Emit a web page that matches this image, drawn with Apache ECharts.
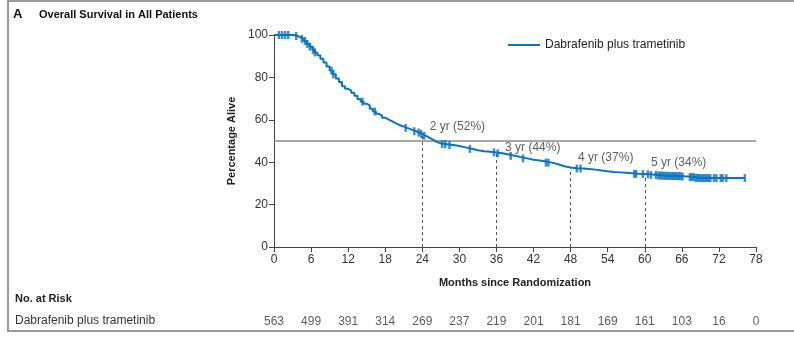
<!DOCTYPE html>
<html><head><meta charset="utf-8">
<script src="https://cdn.jsdelivr.net/npm/echarts@6/dist/echarts.min.js"></script>
<style>html,body{margin:0;padding:0;background:#fff}#c{width:794px;height:340px}</style>
</head><body><div id="c"></div>
<script>
// ---- data ----
const seriesName = 'Dabrafenib plus trametinib';
const kmMonths = [0,2.5,3.2,3.8,4.3,4.8,5.3,5.8,6.2,6.6,7.0,7.5,8.0,8.5,9.0,9.5,10.0,10.5,11.0,11.5,12.0,12.5,13.0,13.5,14.0,14.5,15.0,15.5,16.0,16.5,17.0,17.5,18.0,18.5,19.0,19.5,20.0,20.5,21.0,21.5,22.0,22.5,23.0,23.5,24.0,24.5,25.0,25.5,26.0,26.5,27.0,28.0,29.0,30.0,31.0,32.0,33.0,34.0,35.0,36.0,37.0,38.0,39.0,40.0,41.0,42.0,43.0,44.0,45.0,46.0,47.0,48.0,49.0,50.0,51.0,52.0,53.0,54.0,55.0,56.0,57.0,58.0,59.0,60.0,61.0,62.0,63.0,64.0,65.0,66.0,67.0,68.0,69.0,76.2];
const kmSurvival = [100,100,99.5,99,98.2,97.2,95.8,94.5,93,91.8,90.5,88.8,87,85.2,83.2,81.5,79.5,77.8,75.8,74.6,73.8,72.8,71.3,69.8,68.6,67.6,66.8,65.2,63.9,62.8,62.0,61.0,60.2,59.5,58.7,58.0,57.3,56.8,56.2,55.7,55.1,54.6,54.0,53.3,52.5,51.8,51.0,50.2,49.4,48.9,48.5,48.1,47.6,47.0,46.3,45.6,45.2,44.9,44.6,44.2,43.6,43.0,42.4,41.8,41.2,40.8,40.3,39.8,39.0,38.1,37.5,37.2,37.0,36.8,36.5,36.1,35.7,35.4,35.2,35.0,34.8,34.5,34.4,34.3,34.0,33.7,33.6,33.5,33.4,33.2,33.0,32.6,32.5,32.5];
const censorMonths = [0.8,1.3,1.8,2.3,3.6,4.5,5.0,5.4,5.8,6.3,6.6,9.3,9.6,14.3,16.3,21.3,22.7,23.4,23.8,24.3,27.2,27.7,28.4,31.7,35.6,36.2,38.3,40.3,44.0,44.4,49.0,49.6,58.3,58.6,59.7,60.5,61.0,61.8,62.2,62.5,62.8,63.1,63.4,63.7,64.0,64.3,64.6,64.9,65.2,65.5,65.8,66.1,67.3,67.6,67.9,68.2,68.5,68.8,69.1,69.4,69.7,70.0,70.3,70.6,71.2,71.6,72.3,72.6,73.2,76.2];
const landmarkMonths = [24,36,48,60];
const landmarkValues = [52.5,44.2,37.1,34.3];
const landmarkLabels = ['2 yr (52%)','3 yr (44%)','4 yr (37%)','5 yr (34%)'];
const landmarkLabelPos = [[25.2,56.6],[37.4,46.7],[49.2,42.0],[61.0,39.6]];
const referenceLevel = 50;
const xTicks = [0,6,12,18,24,30,36,42,48,54,60,66,72,78];
const yTicks = [0,20,40,60,80,100];
const riskMonths = [0,6,12,18,24,30,36,42,48,54,60,66,72,78];
const riskCounts = [563,499,391,314,269,237,219,201,181,169,161,103,16,0];

// ---- build ----
const BLUE = '#0b74bd';
const FONT = "'Liberation Sans Narrow','Liberation Sans',sans-serif";
function survAt(t){ let v = kmSurvival[0]; for (let i=0;i<kmMonths.length;i++){ if (kmMonths[i] <= t) v = kmSurvival[i]; } return v; }
const kmData = kmMonths.map((m,i)=>[m,kmSurvival[i]]);
const censorData = censorMonths.map(m=>[m, survAt(m)]);

const chart = echarts.init(document.getElementById('c'), null, {renderer:'canvas'});
chart.setOption({
  animation:false,
  backgroundColor:'#fff',
  textStyle:{fontFamily:FONT},
  grid:[
    {left:274, right:38, top:35, bottom:93},
    {left:274, right:38, top:314, height:16}
  ],
  legend:{
    data:[{name:seriesName, icon:'rect'}],
    left:503, top:34, itemWidth:32, itemHeight:2, itemGap:6,
    textStyle:{fontFamily:FONT, fontSize:12, color:'#222'}
  },
  xAxis:[
    {type:'value', gridIndex:0, min:0, max:78, interval:6,
     name:'Months since Randomization', nameLocation:'middle', nameGap:30,
     nameTextStyle:{fontFamily:FONT, fontSize:11, fontWeight:'bold', color:'#222'},
     axisLine:{lineStyle:{color:'#444', width:1}},
     axisTick:{show:true, length:5, lineStyle:{color:'#444'}},
     axisLabel:{fontSize:12, color:'#333', margin:7, fontFamily:FONT},
     splitLine:{show:false}},
    {type:'value', gridIndex:1, min:0, max:78, show:false}
  ],
  yAxis:[
    {type:'value', gridIndex:0, min:0, max:100, interval:20,
     name:'Percentage Alive', nameLocation:'middle', nameGap:36, nameRotate:90,
     nameTextStyle:{fontFamily:FONT, fontSize:11, fontWeight:'bold', color:'#222'},
     axisLine:{show:true, lineStyle:{color:'#444', width:1}},
     axisTick:{show:true, length:5, lineStyle:{color:'#444'}},
     axisLabel:{fontSize:12, color:'#333', margin:6, fontFamily:FONT},
     splitLine:{show:false}},
    {type:'value', gridIndex:1, min:-1, max:1, show:false}
  ],
  series:[
    {name:seriesName, type:'line', xAxisIndex:0, yAxisIndex:0, data:kmData, step:'end',
     showSymbol:false, symbol:'none', color:BLUE, lineStyle:{color:BLUE, width:2}, z:5,
     markLine:{silent:true, symbol:'none', label:{show:false},
       data:[
         [{coord:[0,referenceLevel], lineStyle:{color:'#8a8a8a', width:1.5, type:'solid'}},{coord:[78,referenceLevel]}]
       ].concat(landmarkMonths.map((m,i)=>[{coord:[m,0], lineStyle:{color:'#555', width:1, type:[3,3]}},{coord:[m,landmarkValues[i]]}]))
     }
    },
    {name:'censored', type:'scatter', xAxisIndex:0, yAxisIndex:0, data:censorData,
     symbol:'rect', symbolSize:[2.5,8], itemStyle:{color:BLUE}, z:6, silent:true},
    {name:'labels', type:'scatter', xAxisIndex:0, yAxisIndex:0, symbolSize:0, silent:true,
     data:landmarkLabelPos.map((p,i)=>({value:p, label:{formatter:landmarkLabels[i]}})),
     label:{show:true, position:'right', distance:0, fontFamily:FONT, fontSize:12, color:'#333'}},
    {name:'risk', type:'scatter', xAxisIndex:1, yAxisIndex:1, symbolSize:0, silent:true,
     data:riskMonths.map((m,i)=>({value:[m,0], label:{formatter:String(riskCounts[i])}})),
     label:{show:true, position:'inside', fontFamily:FONT, fontSize:12, color:'#333'}}
  ],
  graphic:[
    {type:'rect', shape:{x:8, y:1, width:800, height:330}, style:{fill:'none', stroke:'#9a9a9a', lineWidth:2}, silent:true},
    {type:'text', left:13, top:8, style:{text:'A', fontFamily:FONT, fontSize:13, fontWeight:'bold', fill:'#111'}},
    {type:'text', left:39, top:9, style:{text:'Overall Survival in All Patients', fontFamily:FONT, fontSize:11, fontWeight:'bold', fill:'#111'}},
    {type:'text', left:15, top:293, style:{text:'No. at Risk', fontFamily:FONT, fontSize:11, fontWeight:'bold', fill:'#222'}},
    {type:'text', left:15, top:315, style:{text:seriesName, fontFamily:FONT, fontSize:12, fill:'#333'}}
  ]
});
</script></body></html>
